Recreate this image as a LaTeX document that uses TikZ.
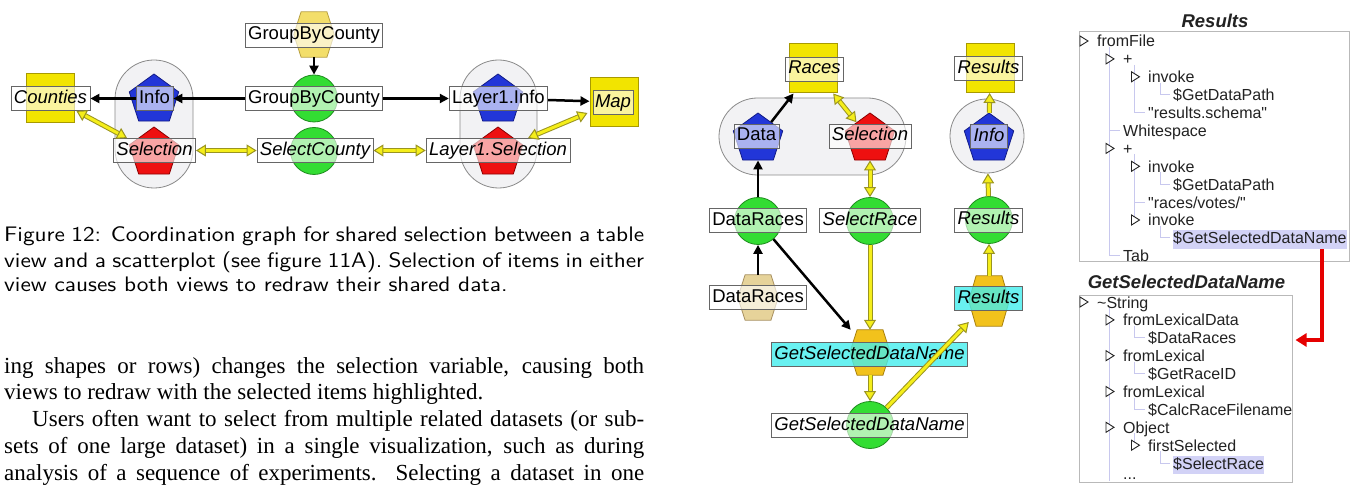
\documentclass[tikz,border=0pt]{standalone}
\usepackage{fontspec}
\usepackage{tikz}
\usetikzlibrary{calc,arrows.meta,shapes.geometric}
\newfontfamily\lblfont{Liberation Sans}
\newfontfamily\bodyfont{Liberation Serif}
\newfontfamily\captfont[FakeStretch=1.11]{lmsans10-regular.otf}
\definecolor{sqyel}{HTML}{F2E400}
\definecolor{sqedge}{HTML}{A89A00}
\definecolor{hexyel}{HTML}{F3DE6A}
\definecolor{hexyeledge}{HTML}{B8A040}
\definecolor{hextan}{HTML}{E6D39A}
\definecolor{hextanedge}{HTML}{A89060}
\definecolor{hexgold}{HTML}{F2C21C}
\definecolor{hexgoldedge}{HTML}{A8800C}
\definecolor{grn}{HTML}{33DD33}
\definecolor{grnedge}{HTML}{1E8C1E}
\definecolor{blu}{HTML}{2236D8}
\definecolor{bluedge}{HTML}{121C88}
\definecolor{rd}{HTML}{EE1010}
\definecolor{rdedge}{HTML}{8C0000}
\definecolor{capfill}{HTML}{F2F2F4}
\definecolor{capedge}{HTML}{8A8A8A}
\definecolor{lblcyan}{HTML}{44EEEE}
\definecolor{hlblue}{HTML}{D2D2F6}
\definecolor{guidecol}{HTML}{C8C8EE}
\definecolor{treetxt}{HTML}{222222}
\definecolor{ylw}{HTML}{F5EE1A}
\definecolor{yedge}{HTML}{9A9420}
\tikzset{>=stealth,
  lbl/.style={draw=gray!80!black, line width=0.8pt, fill=white, fill opacity=0.62, text opacity=1,
    inner xsep=3pt, inner ysep=0pt, minimum height=24pt, text height=13.5pt, text depth=3.5pt,
    font=\lblfont\fontsize{18.5}{20}\selectfont},
  ilbl/.style={lbl, font=\lblfont\itshape\fontsize{18.5}{20}\selectfont},
  clbl/.style={ilbl, fill=lblcyan, fill opacity=0.8},
  sq/.style={draw=sqedge, fill=sqyel, line width=1pt, minimum width=48pt, minimum height=49pt, inner sep=0pt},
  pent/.style={regular polygon, regular polygon sides=5, minimum size=52pt, inner sep=0pt, line width=0.8pt},
  bpent/.style={pent, fill=blu, draw=bluedge},
  rpent/.style={pent, fill=rd, draw=rdedge},
  gcirc/.style={circle, minimum size=47pt, inner sep=0pt, fill=grn, draw=grnedge, line width=0.8pt},
  hexbox/.style={minimum width=40pt, minimum height=45pt, inner sep=0pt},
  capsule/.style={fill=capfill, draw=capedge, line width=0.8pt},
  blk/.style={line width=2.5pt, -{Triangle[length=9pt,width=9pt]}},
  yel/.style={draw=yedge, line width=1pt, double=ylw, double distance=3pt, -{Triangle[length=10pt,width=12pt,fill=ylw]}},
  ybi/.style={yel, {Triangle[length=10pt,width=12pt,fill=ylw]}-{Triangle[length=10pt,width=12pt,fill=ylw]}},
  tree/.style={font=\lblfont\fontsize{16}{18}\selectfont, text=treetxt, inner sep=0pt, anchor=base west},
  hl/.style={tree, fill=hlblue, inner ysep=1.5pt, text height=12pt, text depth=3.5pt},
  ttl/.style={font=\lblfont\bfseries\itshape\fontsize{18.5}{20}\selectfont, text=treetxt},
  tbox/.style={draw=gray!55, line width=1pt},
  guide/.style={draw=guidecol, line width=1pt},
  redarr/.style={draw=red!90!black, line width=3.5pt, -{Triangle[length=11pt,width=13pt]}},
  opn/.pic={\draw[treetxt, line width=0.9pt, fill=white] (0,-5) -- (8,0) -- (0,5) -- cycle;},
  capt/.style={font=\captfont\fontsize{21}{25}\selectfont, inner sep=0pt},
  body/.style={font=\bodyfont\fontsize{23}{26.75}\selectfont, inner sep=0pt}
}
\newcommand{\hexfill}[2]{\filldraw[#2] ($(#1.north west)!0.18!(#1.north east)$) -- ($(#1.north west)!0.82!(#1.north east)$)
  -- (#1.east) -- ($(#1.south west)!0.82!(#1.south east)$) -- ($(#1.south west)!0.18!(#1.south east)$) -- (#1.west) -- cycle;}
\begin{document}
\begin{tikzpicture}[x=1pt,y=-1pt]
\fill[white] (0,0) rectangle (1351,486);
\useasboundingbox (0,0) rectangle (1351,486);

% coordination graph, left
\filldraw[capsule, rounded corners=39pt] (115,60) rectangle (193,188);
\filldraw[capsule, rounded corners=38.5pt] (460,60) rectangle (537,188);
\node[sq] (sqCounties) at (50,98.5) {};
\node[bpent] (pInfo) at (154,100) {};
\node[rpent] (pSel) at (154,153) {};
\node[hexbox] (hxGroup) at (314,34.5) {};
\hexfill{hxGroup}{fill=hexyel, draw=hexyeledge, line width=0.8pt}
\node[gcirc] (cGroup) at (314,98.5) {};
\node[gcirc] (cSelect) at (314,151) {};
\node[bpent] (pLInfo) at (498,100) {};
\node[rpent] (pLSel) at (498,153) {};
\node[sq] (sqMap) at (614,102) {};

\node[ilbl] (lCounties) at (50.5,98.5) {Counties};
\node[lbl] (lInfo) at (154.5,98.5) {Info};
\node[ilbl] (lSel) at (154.5,150.5) {Selection};
\node[lbl] (lGroupTop) at (314,35) {GroupByCounty};
\node[lbl] (lGroup) at (314,98.5) {GroupByCounty};
\node[ilbl] (lSelect) at (315,150.5) {SelectCounty};
\node[lbl] (lLInfo) at (498.5,98.5) {Layer1.Info};
\node[ilbl] (lLSel) at (498,150.5) {Layer1.Selection};
\node[ilbl, inner xsep=2pt] (lMap) at (613,102.5) {Map};

\draw[blk] (hxGroup) -- (cGroup);
\draw[blk] (lGroup) -- (lInfo);
\draw[blk] (lInfo) -- (lCounties);
\draw[blk] (lGroup) -- (lLInfo);
\draw[blk] (lLInfo) -- (sqMap);
\draw[ybi] ($(lCounties.south east)+(-14,0)$) -- ($(lSel.north west)+(14,0)$);
\draw[ybi] (lSel) -- (lSelect);
\draw[ybi] (lSelect) -- (lLSel);
\draw[ybi] ($(sqMap.west)+(-2,11)$) -- ($(lLSel.north)+(30,0)$);

% coordination graph, middle
\filldraw[capsule, rounded corners=38.5pt] (719,98) rectangle (906,175);
\node[capsule, circle, minimum size=74pt] (ringInfo) at (987,136) {};
\node[sq] (sqRaces) at (813,68.5) {};
\node[bpent] (pData) at (758,139) {};
\node[rpent] (pSel2) at (870,139) {};
\node[gcirc] (cDataRaces) at (758,221) {};
\node[gcirc] (cSelRace) at (870,221) {};
\node[hexbox] (hxDataRaces) at (758,297.5) {};
\hexfill{hxDataRaces}{fill=hextan, draw=hextanedge, line width=0.8pt}
\node[hexbox] (hxGSDN) at (870,352.5) {};
\hexfill{hxGSDN}{fill=hexgold, draw=hexgoldedge, line width=0.8pt}
\node[gcirc] (cGSDN) at (870,425) {};
\node[sq] (sqResults) at (990,68) {};
\node[bpent] (pInfo2) at (989,139) {};
\node[gcirc] (cResults) at (989,220) {};
\node[hexbox, minimum height=50pt] (hxResults) at (989,301) {};
\hexfill{hxResults}{fill=hexgold, draw=hexgoldedge, line width=0.8pt}

\node[ilbl] (lRaces) at (814.5,69) {Races};
\node[lbl] (lData) at (756.5,136) {Data};
\node[ilbl] (lSel2) at (870,136) {Selection};
\node[lbl] (lDataRaces) at (758,220.5) {DataRaces};
\node[ilbl] (lSelRace) at (870,220.5) {SelectRace};
\node[ilbl] (lResultsSq) at (988.5,68.5) {Results};
\node[ilbl] (lInfo2) at (989,136.5) {Info};
\node[ilbl] (lResultsC) at (988.5,220) {Results};
\node[clbl] (lResultsHx) at (988.5,298.5) {Results};
\node[lbl] (lDataRacesHx) at (758,297) {DataRaces};
\node[clbl] (lGSDNhx) at (869.5,354) {GetSelectedDataName};
\node[ilbl] (lGSDN) at (869.5,425.5) {GetSelectedDataName};

\draw[blk] (pData) -- (sqRaces);
\draw[ybi] (sqRaces) -- (pSel2);
\draw[blk] (cDataRaces) -- (pData);
\draw[ybi] (cSelRace) -- (pSel2);
\draw[blk] (hxDataRaces) -- (cDataRaces);
\draw[blk] (cDataRaces) -- (hxGSDN);
\draw[yel] (cSelRace) -- (hxGSDN);
\draw[yel] (hxGSDN) -- (cGSDN);
\draw[yel] (cGSDN) -- (hxResults);
\draw[yel] (hxResults) -- (cResults);
\draw[yel] (cResults) -- (ringInfo);
\draw[yel] (pInfo2) -- (sqResults);

% expression trees
\node[ttl] (tResults) at (1215,21) {Results};
\draw[tbox] (1079,32) rectangle (1349,262);
\draw[guide] (1109,47) |- (1120,255.8) (1109,130.5) -- (1120,130.5);
\draw[guide] (1134.5,65) |- (1145,112.6);
\draw[guide] (1160,83) |- (1170,94.7);
\draw[guide] (1134.5,154) -- (1134.5,220) (1134.5,202.1) -- (1145,202.1);
\draw[guide] (1160,172) |- (1170,184.2);
\draw[guide] (1160,226) |- (1170,237.9);
\pic at (1080,41) {opn};
\pic at (1106,58.9) {opn};
\pic at (1131.5,76.8) {opn};
\pic at (1106,148.4) {opn};
\pic at (1131.5,166.3) {opn};
\pic at (1131.5,220) {opn};
\node[tree] (r1) at (1097,47) {fromFile};
\node[tree] (r2) at (1123,64.9) {+};
\node[tree] (r3) at (1148,82.8) {invoke};
\node[tree] (r4) at (1173,100.7) {\$GetDataPath};
\node[tree] (r5) at (1148,118.6) {"results.schema"};
\node[tree] (r6) at (1123,136.5) {Whitespace};
\node[tree] (r7) at (1123,154.4) {+};
\node[tree] (r8) at (1148,172.3) {invoke};
\node[tree] (r9) at (1173,190.2) {\$GetDataPath};
\node[tree] (r10) at (1148,208.1) {"races/votes/"};
\node[tree] (r11) at (1148,226) {invoke};
\node[hl] (hlA) at (1173,243.9) {\$GetSelectedDataName};
\node[tree] (r13) at (1123,261.8) {Tab};

\node[ttl] (tGSDN) at (1186.5,282) {GetSelectedDataName};
\node[tbox, minimum width=213pt, minimum height=187pt] (lowBox) at (1185.5,388.5) {};
\draw[guide] (1109,308) -- (1109,481);
\draw[guide] (1134.5,326) |- (1145,337.8);
\draw[guide] (1134.5,361.7) |- (1145,373.6);
\draw[guide] (1134.5,397.5) |- (1145,409.4);
\draw[guide] (1134.5,433.3) -- (1134.5,445.2);
\draw[guide] (1160,451) |- (1170,463.1);
\pic at (1080,302) {opn};
\pic at (1106,319.9) {opn};
\pic at (1106,355.7) {opn};
\pic at (1106,391.5) {opn};
\pic at (1106,427.3) {opn};
\pic at (1131.5,445.2) {opn};
\node[tree] (s1) at (1097,308) {\textasciitilde String};
\node[tree] (s2) at (1123,325.9) {fromLexicalData};
\node[tree] (s3) at (1148,343.8) {\$DataRaces};
\node[tree] (s4) at (1123,361.7) {fromLexical};
\node[tree] (s5) at (1148,379.6) {\$GetRaceID};
\node[tree] (s6) at (1123,397.5) {fromLexical};
\node[tree] (s7) at (1148,415.4) {\$CalcRaceFilename};
\node[tree] (s8) at (1123,433.3) {Object};
\node[tree] (s9) at (1148,451.2) {firstSelected};
\node[hl] (hlB) at (1173,469.1) {\$SelectRace};
\node[tree] (s11) at (1123,479) {...};

\coordinate (rc) at (1322,340);
\draw[redarr, shorten >=3pt] (hlA.south -| rc) -- (rc) -- (lowBox.east |- rc);

% page text
\node[capt, anchor=base west, text width=640pt, align=justify] (caption) at (4,242)
  {\tolerance=9999\hyphenchar\font=-1 Figure 12: Coordination graph for shared selection between a table\linebreak
   view and a scatterplot (see figure 11A). Selection of items in either\linebreak
   view causes both views to redraw their shared data.};
\node[body, anchor=base west, text width=640pt, align=justify] (para) at (4,373)
  {\tolerance=9999\hyphenpenalty=10000 ing shapes or rows) changes the selection variable, causing both\linebreak
   views to redraw with the selected items highlighted.\par
   {\parfillskip=0pt \hspace*{28pt}Users often want to select from multiple related datasets (or sub-\linebreak
   sets of one large dataset) in a single visualization, such as during\linebreak
   analysis of a sequence of experiments.\ \ Selecting a dataset in one\par}};
\end{tikzpicture}
\end{document}
